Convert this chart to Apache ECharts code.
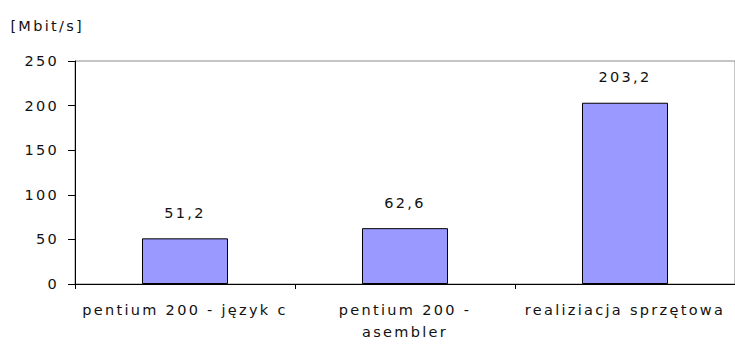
<!DOCTYPE html>
<html>
<head>
<meta charset="utf-8">
<script src="https://cdn.jsdelivr.net/npm/echarts@6/dist/echarts.min.js"></script>
<style>
html, body { margin: 0; padding: 0; background: #fff; }
#chart { width: 735px; height: 356px; }
#chart text { letter-spacing: 2.3px; }
</style>
</head>
<body>
<div id="chart"></div>
<script>
const categories = ['pentium 200 - język c', 'pentium 200 -\nasembler', 'realiziacja sprzętowa'];
const values = [51.2, 62.6, 203.2];
const yTicks = { min: 0, max: 250, interval: 50 };
const yUnit = '[Mbit/s]';

const font = { fontFamily: 'DejaVu Sans, sans-serif', fontSize: 14.5, color: '#111' };
const chart = echarts.init(document.getElementById('chart'), null, { renderer: 'svg' });
chart.setOption({
  animation: false,
  backgroundColor: '#fff',
  grid: { left: 75, right: -7, top: 61, bottom: 72, show: true, borderColor: '#8c8c8c', borderWidth: 1, containLabel: false },
  xAxis: {
    type: 'category',
    data: categories,
    axisLine: { lineStyle: { color: '#000', width: 1 } },
    axisTick: { show: true, length: 5, alignWithLabel: false, lineStyle: { color: '#000' } },
    axisLabel: Object.assign({ margin: 15, lineHeight: 22, interval: 0 }, font)
  },
  yAxis: {
    type: 'value',
    min: yTicks.min, max: yTicks.max, interval: yTicks.interval,
    name: yUnit,
    nameLocation: 'end',
    nameGap: 28,
    nameTextStyle: Object.assign({ align: 'right', padding: [0, -9, 0, 0] }, font),
    axisLine: { show: true, lineStyle: { color: '#000', width: 1 } },
    axisTick: { show: true, length: 7, lineStyle: { color: '#000' } },
    axisLabel: Object.assign({ margin: 16 }, font),
    splitLine: { show: false }
  },
  series: [{
    type: 'bar',
    data: values,
    barWidth: 86,
    itemStyle: { color: '#9999ff', borderColor: '#000', borderWidth: 1 },
    label: {
      show: true, position: 'top', distance: 18,
      formatter: p => String(p.value).replace('.', ','),
      ...font
    }
  }]
});
</script>
</body>
</html>
